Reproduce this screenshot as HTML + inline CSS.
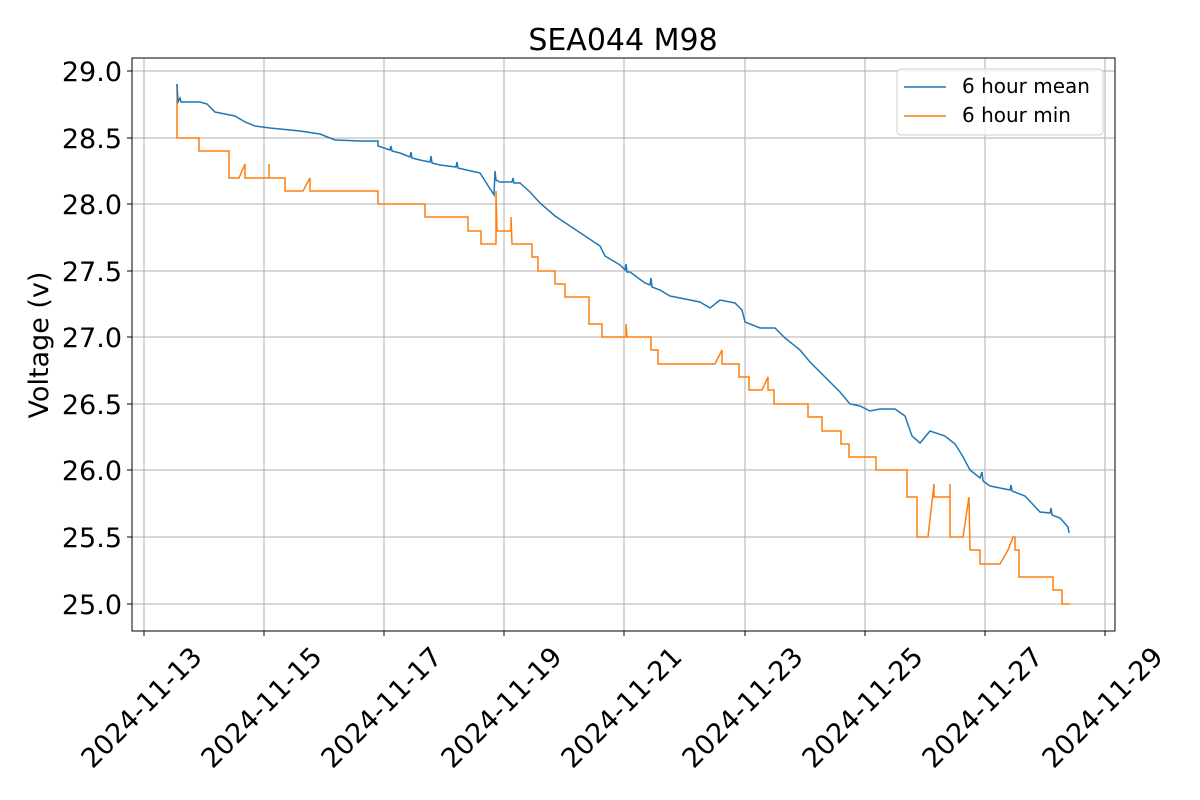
<!DOCTYPE html>
<html><head><meta charset="utf-8"><style>body{margin:0;background:#fff}svg{display:block;font-family:"DejaVu Sans","Liberation Sans",sans-serif}</style></head>
<body>
<svg width="1200" height="800" xmlns="http://www.w3.org/2000/svg">
<rect width="1200" height="800" fill="#fff"/>
<g stroke="#b0b0b0" stroke-width="1">
<line x1="144" y1="58" x2="144" y2="631"/><line x1="264" y1="58" x2="264" y2="631"/><line x1="384" y1="58" x2="384" y2="631"/><line x1="504" y1="58" x2="504" y2="631"/><line x1="624" y1="58" x2="624" y2="631"/><line x1="745" y1="58" x2="745" y2="631"/><line x1="865" y1="58" x2="865" y2="631"/><line x1="985" y1="58" x2="985" y2="631"/><line x1="1105" y1="58" x2="1105" y2="631"/>
<line x1="132" y1="71" x2="1115" y2="71"/><line x1="132" y1="138" x2="1115" y2="138"/><line x1="132" y1="204" x2="1115" y2="204"/><line x1="132" y1="271" x2="1115" y2="271"/><line x1="132" y1="337" x2="1115" y2="337"/><line x1="132" y1="404" x2="1115" y2="404"/><line x1="132" y1="470" x2="1115" y2="470"/><line x1="132" y1="537" x2="1115" y2="537"/><line x1="132" y1="604" x2="1115" y2="604"/>
</g>
<polyline fill="none" stroke="#ff7f0e" stroke-width="1.5" points="177,84 177,138 199,138 199,151 229,151 229,178 239,178 245,164 245,178 269,178 269,164 269,178 285,178 285,191 303,191 310,178 310,191 378,191 378,204 425,204 425,217 468,217 468,231 481,231 481,244 496,244 496,191 497,231 511,231 511,217 512,244 532,244 532,257 538,257 538,271 555,271 555,284 565,284 565,297 589,297 589,324 602,324 602,337 626,337 626,324 627,337 651,337 651,350 658,350 658,364 715,364 722,350 722,364 739,364 739,377 749,377 749,390 762,390 768,377 768,390 774,390 774,404 808,404 808,417 822,417 822,431 841,431 841,444 849,444 849,457 876,457 876,470 907,470 907,497 917,497 917,537 928,537 934,484 934,497 950,497 950,484 950,537 963,537 969,497 970,550 980,550 980,564 1000,564 1008,550 1013,537 1015,537 1015,550 1019,550 1019,577 1053,577 1053,590 1062,590 1062,604 1070,604"/>
<polyline fill="none" stroke="#1f77b4" stroke-width="1.5" points="177,84 178,102 180,98 181,102 200,102 207,104 215,112 235,116 245,122 255,126 270,128 300,131 320,134 335,140 360,141 378,141 378,146 390,150 391,146 392,151 400,153 410,157 411,152 412,158 420,160 430,162 431,156 432,163 440,165 456,167 457,162 458,168 480,173 494,195 495,171 496,180 500,182 512,182 513,178 514,183 520,183 530,192 540,203 555,216 570,226 585,236 600,246 605,256 620,265 625,270 626,264 627,272 630,272 645,283 650,285 651,278 652,287 660,290 670,296 680,298 700,302 710,308 720,300 735,303 742,310 745,322 760,328 775,328 785,338 800,350 810,362 820,372 830,382 840,392 850,404 860,406 870,411 880,409 895,409 905,416 912,436 920,443 930,431 945,436 955,444 962,455 970,470 980,478 982,472 983,481 990,486 1010,490 1011,485 1012,491 1025,496 1040,512 1050,513 1051,508 1052,515 1060,518 1068,527 1069,533"/>
<rect x="132" y="58" width="983" height="573" fill="none" stroke="#000" stroke-width="1"/>
<g stroke="#000"><line x1="127" y1="71" x2="132" y2="71"/><line x1="127" y1="138" x2="132" y2="138"/><line x1="127" y1="204" x2="132" y2="204"/><line x1="127" y1="271" x2="132" y2="271"/><line x1="127" y1="337" x2="132" y2="337"/><line x1="127" y1="404" x2="132" y2="404"/><line x1="127" y1="470" x2="132" y2="470"/><line x1="127" y1="537" x2="132" y2="537"/><line x1="127" y1="604" x2="132" y2="604"/>
<line x1="144" y1="631" x2="144" y2="636"/><line x1="264" y1="631" x2="264" y2="636"/><line x1="384" y1="631" x2="384" y2="636"/><line x1="504" y1="631" x2="504" y2="636"/><line x1="624" y1="631" x2="624" y2="636"/><line x1="745" y1="631" x2="745" y2="636"/><line x1="865" y1="631" x2="865" y2="636"/><line x1="985" y1="631" x2="985" y2="636"/><line x1="1105" y1="631" x2="1105" y2="636"/></g>
<g font-size="27" text-anchor="end" fill="#000">
<text x="122" y="81">29.0</text><text x="122" y="148">28.5</text><text x="122" y="214">28.0</text><text x="122" y="281">27.5</text><text x="122" y="347">27.0</text><text x="122" y="414">26.5</text><text x="122" y="480">26.0</text><text x="122" y="547">25.5</text><text x="122" y="614">25.0</text>
</g>
<g font-size="27" text-anchor="middle" fill="#000">
<text transform="translate(148,714) rotate(-45)">2024-11-13</text>
<text transform="translate(268,714) rotate(-45)">2024-11-15</text>
<text transform="translate(388,714) rotate(-45)">2024-11-17</text>
<text transform="translate(508,714) rotate(-45)">2024-11-19</text>
<text transform="translate(628,714) rotate(-45)">2024-11-21</text>
<text transform="translate(749,714) rotate(-45)">2024-11-23</text>
<text transform="translate(869,714) rotate(-45)">2024-11-25</text>
<text transform="translate(989,714) rotate(-45)">2024-11-27</text>
<text transform="translate(1109,714) rotate(-45)">2024-11-29</text>
</g>
<text x="623" y="50" font-size="30" text-anchor="middle">SEA044 M98</text>
<text transform="translate(48,345) rotate(-90)" font-size="27" text-anchor="middle">Voltage (v)</text>
<rect x="897" y="69" width="206" height="66" rx="4" fill="#fff" fill-opacity="0.8" stroke="#ccc"/>
<line x1="904" y1="87" x2="946" y2="87" stroke="#1f77b4" stroke-width="1.5"/>
<line x1="904" y1="116" x2="946" y2="116" stroke="#ff7f0e" stroke-width="1.5"/>
<text x="962" y="93" font-size="20">6 hour mean</text>
<text x="962" y="122" font-size="20">6 hour min</text>
</svg>
</body></html>
